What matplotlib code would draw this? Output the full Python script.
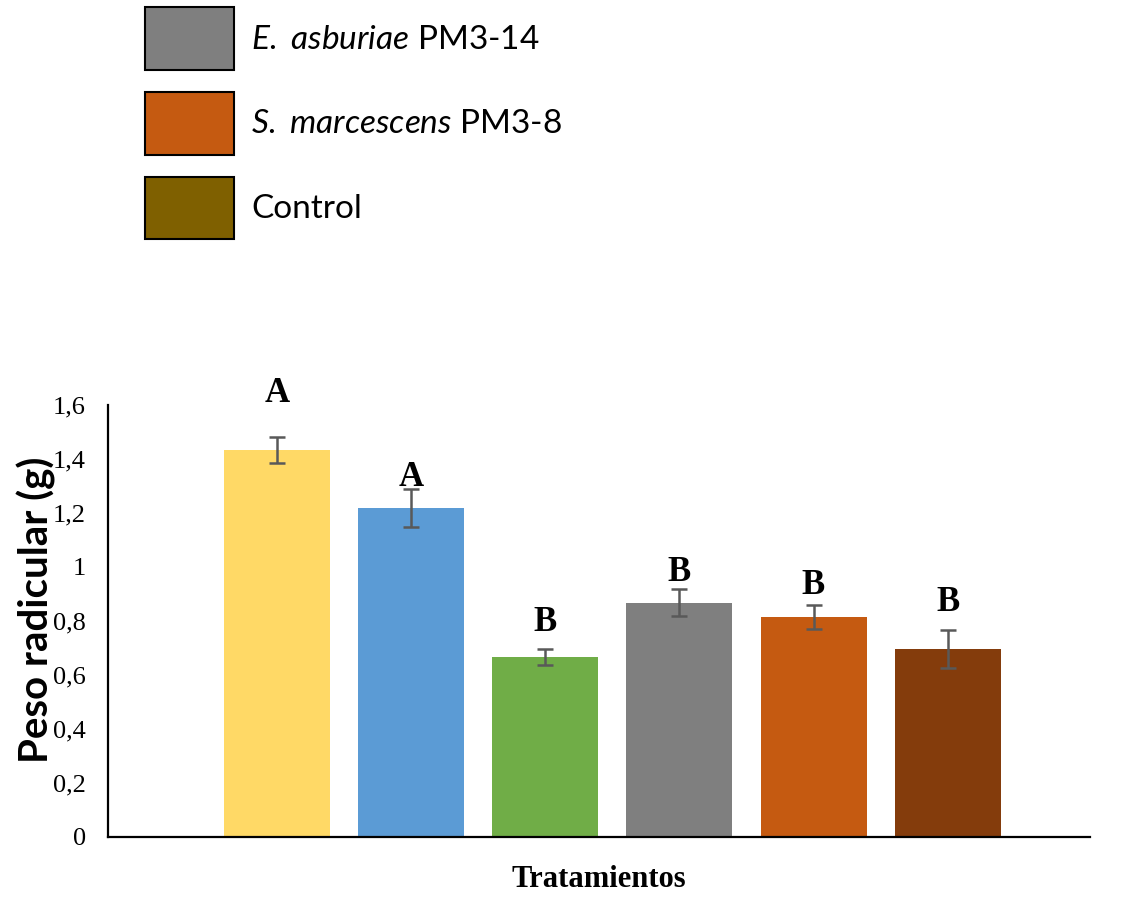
import matplotlib.pyplot as plt
from matplotlib.patches import Patch
from matplotlib.ticker import FuncFormatter

plt.rcParams["mathtext.fontset"] = "custom"
plt.rcParams["mathtext.rm"] = "Lato"
plt.rcParams["mathtext.it"] = "Lato:italic"

# mean root weight per treatment (g) and standard error
peso = [1.433, 1.219, 0.667, 0.867, 0.815, 0.696]
error = [0.048, 0.070, 0.031, 0.050, 0.046, 0.070]
letras = ["A", "A", "B", "B", "B", "B"]
letra_y = [1.644, 1.330, 0.796, 0.980, 0.933, 0.867]
colores = ["#FFD966", "#5B9BD5", "#70AD47", "#7F7F7F", "#C55A11", "#843C0C"]

leyenda_txt = [r"$\it{E.}$ $\it{asburiae}$ PM3-14", r"$\it{S.}$ $\it{marcescens}$ PM3-8", "Control"]
leyenda_col = ["#7F7F7F", "#C55A11", "#7F6000"]

fig = plt.figure(figsize=(11.26, 8.97), dpi=100)
ax = fig.add_axes([0.0959, 0.0669, 0.872, 0.4816])

x = list(range(len(peso)))
ax.bar(x, peso, width=0.79, color=colores, zorder=2)
ax.errorbar(x, peso, yerr=error, fmt="none", ecolor="#595959",
            elinewidth=1.8, capsize=6, capthick=1.8, zorder=3)
for xi, txt, yi in zip(x, letras, letra_y):
    ax.text(xi, yi, txt, ha="center", va="center", fontsize=25,
            fontweight="bold", family="Liberation Serif", zorder=4)

ax.set_xlim(-1.26, 6.06)
ax.set_ylim(0, 1.6)
ax.set_yticks([0, 0.2, 0.4, 0.6, 0.8, 1.0, 1.2, 1.4, 1.6])
ax.yaxis.set_major_formatter(FuncFormatter(lambda v, _: f"{v:g}".replace(".", ",")))
ax.set_xticks([])
ax.tick_params(axis="y", length=0, pad=16, labelsize=19)
for lab in ax.get_yticklabels():
    lab.set_family("Liberation Serif")
for side in ("top", "right"):
    ax.spines[side].set_visible(False)
for side in ("left", "bottom"):
    ax.spines[side].set_linewidth(1.6)
    ax.spines[side].set_color("black")

ax.set_xlabel("Tratamientos", family="Liberation Serif", fontweight="bold",
              fontsize=22, labelpad=20)
ax.set_ylabel("Peso radicular (g)", family="Lato", fontweight="bold", fontsize=29)
ax.yaxis.set_label_coords(-0.053, 0.527)

handles = [Patch(facecolor=c, edgecolor="black", linewidth=1.5) for c in leyenda_col]
fig.legend(handles, leyenda_txt, loc="upper left",
           bbox_to_anchor=(145 / 1126, 1 - 7 / 897), frameon=False,
           prop={"family": "Lato", "size": 24},
           handlelength=2.68, handleheight=2.52, labelspacing=0.66,
           handletextpad=0.5, borderpad=0, borderaxespad=0)

fig.savefig("out.png", dpi=100)
